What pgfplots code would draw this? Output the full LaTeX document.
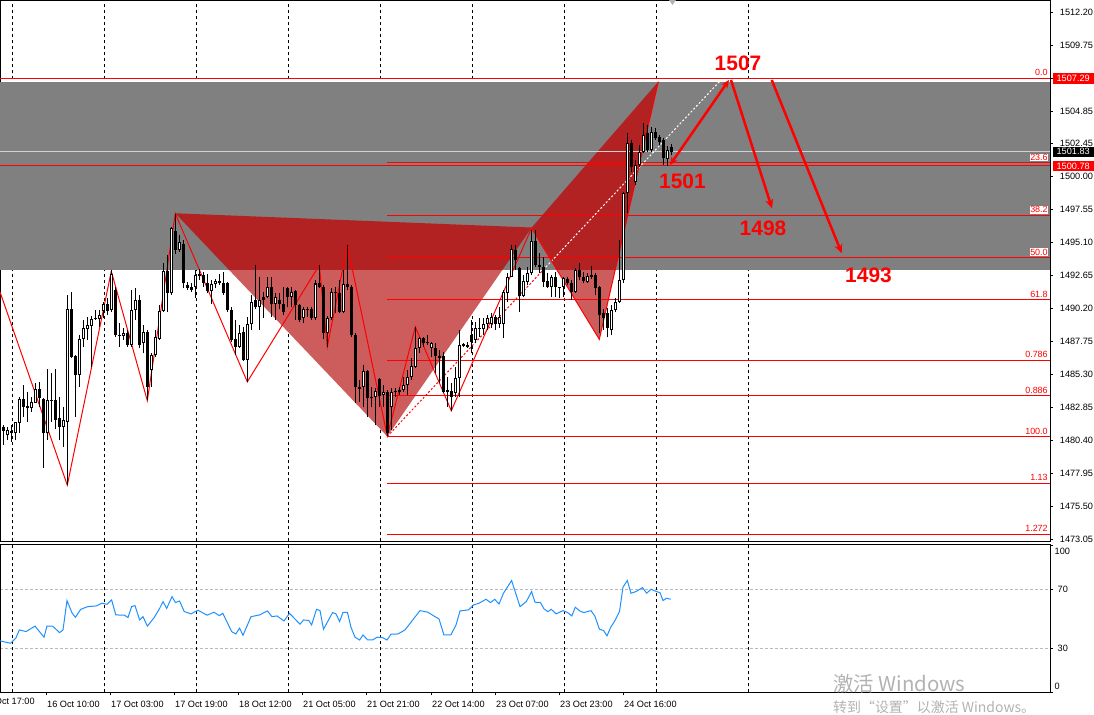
\documentclass[border=0pt]{standalone}
\usepackage{fontspec}
\setmainfont{Liberation Sans}
\newfontfamily\cjk{Noto Sans CJK SC}
\usepackage{pgfplots}
\usepackage{pgfplotstable}
\pgfplotsset{compat=1.18}
\usetikzlibrary{arrows.meta}

\definecolor{band}{RGB}{128,128,128}
\definecolor{tridark}{RGB}{178,34,34}
\definecolor{trilight}{RGB}{205,92,92}
\definecolor{mtred}{RGB}{255,0,0}
\definecolor{rsiblue}{RGB}{30,144,255}
\definecolor{bidgray}{RGB}{210,210,210}

\newcommand\ax{\fontsize{9.2}{10}\selectfont}

% x = pixel column of the bar, prices o h l c
\pgfplotstableread{
x o h l c
3.3 1481.39 1481.51 1480.02 1481.09
7.3 1480.77 1481.39 1480.40 1481.14
11.3 1481.07 1481.51 1480.27 1480.89
15.3 1480.89 1481.76 1480.40 1481.76
19.3 1481.69 1483.62 1480.89 1483.42
23.3 1483.42 1484.49 1482.13 1482.88
27.3 1482.95 1483.99 1481.76 1482.75
31.3 1482.75 1483.62 1482.50 1483.20
35.3 1483.17 1484.61 1483.12 1484.16
39.3 1484.16 1484.73 1482.88 1483.54
43.3 1483.49 1483.55 1478.34 1480.89
47.3 1480.89 1485.65 1480.40 1483.37
51.3 1483.37 1485.40 1481.76 1483.32
55.3 1483.37 1485.72 1481.19 1481.88
59.3 1482.01 1483.62 1480.40 1481.39
63.3 1481.39 1482.88 1479.90 1481.88
67.3 1481.76 1491.17 1477.05 1490.11
71.3 1490.11 1491.42 1486.47 1486.59
75.3 1486.64 1486.70 1482.13 1485.23
79.3 1485.23 1488.20 1484.36 1487.95
83.3 1487.95 1489.32 1487.33 1488.70
87.3 1488.62 1489.56 1487.83 1488.94
91.3 1488.90 1489.61 1485.85 1489.37
95.3 1489.44 1490.06 1489.32 1489.39
99.3 1489.39 1490.06 1488.82 1489.69
103.3 1489.98 1490.68 1489.44 1490.48
107.3 1490.48 1490.93 1489.69 1490.01
111.3 1490.06 1493.03 1489.93 1492.78
115.3 1491.59 1491.79 1488.08 1488.20
119.3 1488.20 1489.07 1487.33 1488.15
123.3 1488.15 1488.70 1487.83 1488.33
127.3 1488.37 1488.57 1487.33 1487.46
131.3 1487.46 1491.54 1487.33 1490.06
135.3 1490.06 1491.67 1489.32 1490.85
139.3 1490.85 1491.17 1487.21 1487.46
143.3 1487.58 1488.94 1486.84 1488.40
147.3 1488.40 1488.57 1483.37 1484.36
151.3 1485.60 1486.84 1484.36 1486.76
155.3 1486.76 1488.57 1486.59 1488.03
159.3 1487.95 1490.43 1487.83 1490.01
163.3 1490.01 1493.53 1489.93 1492.98
167.3 1492.98 1494.15 1489.93 1491.35
171.3 1491.35 1496.25 1491.20 1496.20
175.3 1495.93 1497.24 1494.20 1494.52
179.3 1494.52 1495.63 1494.37 1495.13
183.3 1494.96 1495.26 1491.67 1492.04
187.3 1491.92 1492.16 1491.54 1491.74
191.3 1491.79 1492.04 1491.42 1491.54
195.3 1491.79 1493.03 1490.93 1492.66
199.3 1492.58 1493.15 1492.29 1492.71
203.3 1492.66 1492.91 1491.79 1492.04
207.3 1492.09 1492.78 1491.30 1491.50
211.3 1491.50 1492.29 1490.55 1491.99
215.3 1491.97 1492.41 1491.67 1492.21
219.3 1492.24 1492.78 1491.92 1492.04
223.3 1492.09 1492.91 1491.17 1491.35
227.3 1492.09 1492.16 1489.93 1490.06
231.3 1490.06 1490.31 1487.71 1487.83
235.3 1487.90 1489.32 1486.71 1487.33
239.3 1487.33 1488.94 1487.21 1488.33
243.3 1488.45 1488.77 1486.30 1486.34
247.3 1486.34 1489.56 1484.73 1489.00
251.3 1489.00 1491.17 1488.57 1490.68
255.3 1490.80 1493.40 1490.18 1490.31
259.3 1490.31 1492.54 1488.57 1490.85
263.3 1490.85 1491.42 1489.44 1491.00
267.3 1491.05 1492.54 1490.93 1491.79
271.3 1491.79 1492.54 1489.56 1490.55
275.3 1490.55 1491.30 1489.32 1491.00
279.3 1490.85 1491.30 1490.18 1490.50
283.3 1490.50 1491.79 1489.69 1489.93
287.3 1491.67 1491.79 1490.31 1491.05
291.3 1491.05 1491.79 1490.31 1491.42
295.3 1491.47 1491.54 1489.32 1490.41
299.3 1490.41 1490.55 1489.19 1489.32
303.3 1489.44 1490.31 1489.07 1490.11
307.3 1490.13 1490.31 1489.56 1490.08
311.3 1490.18 1490.31 1489.32 1489.44
315.3 1489.44 1492.29 1489.32 1492.04
319.3 1492.04 1493.40 1491.67 1491.79
323.3 1491.79 1491.92 1487.95 1488.33
327.3 1488.33 1489.61 1487.33 1489.51
331.3 1489.51 1491.67 1489.32 1491.42
335.3 1491.42 1491.79 1489.81 1491.30
339.3 1491.35 1492.29 1489.81 1489.93
343.3 1489.93 1493.03 1489.81 1491.99
347.3 1491.99 1494.89 1491.54 1491.79
351.3 1491.79 1491.92 1488.08 1488.20
355.3 1488.20 1488.33 1483.12 1484.36
359.3 1484.36 1484.90 1483.20 1484.20
363.3 1484.36 1485.98 1482.88 1485.55
367.3 1485.55 1485.60 1482.14 1483.50
371.3 1483.62 1484.36 1482.88 1483.50
375.3 1483.57 1484.24 1481.52 1484.07
379.3 1484.91 1484.99 1482.88 1483.67
383.3 1483.75 1484.49 1482.88 1483.99
387.3 1483.99 1484.12 1480.70 1480.90
391.3 1482.83 1484.24 1481.15 1483.94
395.3 1483.94 1484.24 1483.62 1484.04
399.3 1483.99 1484.36 1483.75 1484.12
403.3 1484.12 1485.11 1483.99 1484.49
407.3 1484.49 1485.60 1483.75 1485.11
411.3 1485.11 1486.47 1484.86 1485.90
415.3 1485.85 1488.82 1485.73 1487.21
419.3 1487.21 1488.08 1486.84 1487.96
423.3 1487.96 1488.08 1487.34 1487.58
427.3 1487.63 1488.20 1487.46 1487.58
431.3 1487.21 1487.71 1486.59 1487.63
435.3 1487.26 1487.58 1485.36 1486.64
439.3 1486.64 1487.09 1484.61 1486.47
443.3 1486.64 1486.97 1483.87 1483.99
447.3 1484.12 1485.11 1482.88 1483.99
451.3 1484.07 1484.61 1482.58 1483.62
455.3 1483.87 1485.85 1483.62 1484.99
459.3 1484.99 1488.58 1483.62 1487.46
463.3 1487.51 1487.58 1487.34 1487.39
467.3 1487.46 1487.71 1487.21 1487.34
471.3 1488.20 1489.32 1486.84 1487.71
475.3 1487.83 1489.20 1487.63 1488.70
479.3 1488.63 1489.44 1488.08 1488.70
483.3 1488.63 1489.44 1488.20 1489.02
487.3 1489.02 1489.69 1488.58 1489.44
491.3 1489.02 1489.81 1488.70 1489.52
495.3 1489.57 1489.69 1488.58 1489.02
499.3 1489.02 1490.31 1488.70 1489.57
503.3 1489.02 1491.55 1487.96 1491.42
507.3 1491.35 1492.79 1490.68 1492.54
511.3 1492.54 1494.89 1492.54 1494.57
515.3 1494.52 1494.89 1493.03 1493.78
519.3 1493.16 1493.28 1489.94 1491.10
523.3 1491.10 1492.66 1491.05 1492.22
527.3 1492.17 1493.28 1491.92 1492.79
531.3 1492.79 1496.01 1492.66 1495.21
535.3 1495.21 1496.01 1493.28 1493.41
539.3 1493.41 1494.32 1492.79 1493.28
543.3 1493.28 1494.03 1491.80 1492.17
547.3 1492.22 1492.79 1491.67 1491.80
551.3 1491.75 1492.66 1491.05 1492.49
555.3 1492.54 1492.91 1491.05 1491.80
559.3 1491.75 1491.80 1490.93 1491.67
563.3 1491.80 1492.54 1491.05 1492.42
567.3 1492.34 1492.54 1491.92 1492.04
571.3 1492.09 1492.29 1490.81 1491.42
575.3 1491.42 1493.16 1491.30 1493.03
579.3 1493.08 1493.53 1492.29 1492.49
583.3 1492.54 1492.91 1492.04 1492.24
587.3 1492.16 1492.81 1492.06 1492.61
591.3 1492.66 1493.35 1492.41 1492.53
595.3 1492.66 1492.81 1491.17 1491.72
599.3 1491.79 1491.84 1488.35 1489.69
603.3 1489.84 1490.13 1488.57 1489.46
607.3 1489.84 1490.21 1488.05 1488.72
611.3 1488.57 1490.43 1488.20 1490.06
615.3 1490.06 1490.95 1489.91 1490.68
619.3 1490.68 1495.26 1490.58 1492.29
623.3 1492.29 1498.85 1492.06 1498.75
627.3 1498.75 1503.21 1497.27 1502.47
631.3 1502.47 1502.69 1500.31 1500.68
635.3 1499.59 1501.20 1499.35 1500.83
639.3 1500.83 1502.32 1500.70 1501.82
643.3 1501.82 1503.95 1501.72 1503.06
647.3 1503.21 1503.80 1501.80 1501.95
651.3 1501.95 1503.68 1501.82 1503.31
655.3 1503.31 1503.58 1502.69 1502.82
659.3 1502.91 1503.06 1502.32 1502.56
663.3 1502.69 1502.84 1500.83 1501.35
667.3 1501.28 1502.24 1500.76 1501.95
671.3 1502.19 1502.39 1501.57 1501.83
}\candles

\pgfplotstableread{
x rsi
0 35.0
10.5 33.4
15.8 36.8
19.3 42.4
26 41.3
35 45.0
44 37.5
47 45.0
52.6 45.0
59.6 40.6
63 42.4
67 62.3
72 54.0
75.4 51.0
80.7 56.4
87.7 58.2
96.5 58.7
101.8 60.5
107 59.8
111.6 62.8
115.8 52.6
124.6 52.4
128 50.8
131.6 58.2
135 58.9
139.6 49.2
143 51.4
147.4 45.0
154.4 51.0
159.6 57.0
163 61.6
166.7 57.0
172 65.0
175.4 61.0
179.6 62.0
184.2 54.9
191 53.3
198 55.8
207 52.4
214 54.4
219.3 52.1
222.8 53.7
231.6 41.3
235.8 39.7
239.6 43.6
243 38.8
251 51.4
259.6 52.6
267.4 55.3
272 51.4
277 51.9
284 48.5
289.5 53.7
300 46.3
303.5 49.2
308.8 48.8
311.6 45.8
316.5 56.4
320 55.5
323.5 42.9
332.6 54.2
336 53.3
339.6 48.1
343 54.4
347.4 54.4
351 44.2
355 37.5
359.6 35.6
363 39.0
367.7 35.6
372.6 35.6
377 37.5
382.5 37.2
387 35.6
391 39.5
398 39.7
405 42.4
414 50.3
420 55.5
428 54.4
435 51.4
439 49.9
443.9 39.0
450.9 39.0
456 45.8
460 55.3
468.4 56.0
473.7 59.4
479 60.5
486 63.2
490.5 61.0
494.7 63.2
499 60.0
503.5 67.3
511.6 75.9
520 58.2
526.3 61.6
531.6 68.4
535 61.2
540.4 61.0
544 56.7
547.8 54.8
551.3 56.4
556 53.3
563 55.5
567.6 54.2
571.8 51.9
575.3 57.8
580.6 54.9
584 54.2
591 55.5
594.8 51.9
599.4 42.9
603.6 42.0
607 38.4
610.7 44.2
615 48.8
619.5 54.9
623 71.4
627.3 75.9
631 67.3
636 68.4
642.5 71.1
646.7 67.3
651 70.0
656.6 68.4
660 67.7
663 62.3
666.5 63.9
670.7 63.2
}\rsi

\pgfplotsset{
  mtframe/.style={
    scale only axis, width=1050bp, xmin=0, xmax=1050,
    axis line style={black, line width=1bp},
    tick align=outside, major tick length=3bp,
    ytick pos=right, yticklabel pos=right,
    ytick style={black, line width=0.8bp},
    clip mode=individual,
  },
}

\begin{document}
\begin{tikzpicture}[x=1bp,y=1bp]
\path[use as bounding box] (0,0) rectangle (1094,715);

\begin{axis}[mtframe,
  at={(0bp,714.5bp)}, anchor=north west, height=541bp,
  ymin=1472.86, ymax=1513.08,
  xtick={12,104,196,288,380,472,564,656,748}, xticklabels={},
  xtick style={draw=none},
  xmajorgrids,
  major x grid style={black, line width=1bp, dash pattern=on 3bp off 3bp},
  ytick={1512.20,1509.75,1507.30,1504.85,1502.45,1500.00,1497.55,1495.10,1492.65,1490.20,1487.75,1485.30,1482.85,1480.40,1477.95,1475.50,1473.05},
  yticklabels={1512.20,1509.75,{},1504.85,1502.45,1500.00,1497.55,1495.10,1492.65,1490.20,1487.75,1485.30,1482.85,1480.40,1477.95,1475.50,1473.05},
  yticklabel style={font=\ax, anchor=west, inner sep=0pt, xshift=6.7bp},
]
% rectangle zone
\addplot[fill=band, draw=none] coordinates {(0,1493.04) (1050,1493.04) (1050,1507.04) (0,1507.04)} -- cycle;
% harmonic pattern triangles
\addplot[fill=tridark, draw=none] coordinates {(175.3,1497.26) (229.2,1493.04) (502.3,1493.04) (531.7,1496.20)} -- cycle;
\addplot[fill=trilight, draw=none] coordinates {(229.2,1493.04) (387.3,1480.67) (502.3,1493.04)} -- cycle;
\addplot[fill=tridark, draw=none] coordinates {(531.7,1496.20) (557.4,1493.04) (615.2,1493.04) (658.3,1507.04)} -- cycle;
\addplot[fill=trilight, draw=none] coordinates {(557.4,1493.04) (599.3,1487.89) (615.2,1493.04)} -- cycle;

% horizontal lines
\addplot[mtred, line width=1bp] coordinates {(0,1507.29) (1050,1507.29)};
\addplot[mtred, line width=1bp] coordinates {(0,1500.78) (1050,1500.78)};
\addplot[bidgray, line width=1bp] coordinates {(0,1501.83) (1050,1501.83)};
% fibonacci levels
\addplot[mtred, line width=1bp] coordinates {(387.3,1501.00) (1050,1501.00)};
\addplot[mtred, line width=1bp] coordinates {(387.3,1497.11) (1050,1497.11)};
\addplot[mtred, line width=1bp] coordinates {(387.3,1493.97) (1050,1493.97)};
\addplot[mtred, line width=1bp] coordinates {(387.3,1490.83) (1050,1490.83)};
\addplot[mtred, line width=1bp] coordinates {(387.3,1486.35) (1050,1486.35)};
\addplot[mtred, line width=1bp] coordinates {(387.3,1483.69) (1050,1483.69)};
\addplot[mtred, line width=1bp] coordinates {(387.3,1480.65) (1050,1480.65)};
\addplot[mtred, line width=1bp] coordinates {(387.3,1477.19) (1050,1477.19)};
\addplot[mtred, line width=1bp] coordinates {(387.3,1473.40) (1050,1473.40)};

% fib trend line
\addplot[mtred, line width=1bp, dash pattern=on 2bp off 2bp] coordinates {(387.3,1480.67) (543.1,1493.04)};
\addplot[white, line width=1bp, dash pattern=on 2bp off 2bp] coordinates {(543.1,1493.04) (721,1507.17)};

% zigzag
\addplot[mtred, line width=1bp] coordinates {
(0,1491.41) (67.3,1477.05) (111.3,1492.95) (147.3,1483.33) (175.3,1497.24)
(247.3,1484.73) (319.3,1493.40) (327.3,1487.33) (347.3,1494.89) (387.3,1480.70)
(415.3,1488.82) (451.3,1482.58) (531.5,1496.15) (599.3,1487.89) (658.3,1507.04)};

% candles: wick, body, hollow inside of rising bars
\addplot[black, no markers, line width=1bp, quiver={u=0, v={\thisrow{h}-\thisrow{l}}}]
  table[x=x, y=l] {\candles};
\addplot[black, no markers, line width=3.3bp, quiver={u=0, v={max(abs(\thisrow{c}-\thisrow{o}),0.075)}}]
  table[x=x, y expr={min(\thisrow{o},\thisrow{c})}] {\candles};
\addplot[white, no markers, line width=1.3bp, quiver={u=0, v={max(\thisrow{c}-\thisrow{o}-0.15,0)}}]
  table[x=x, y expr={\thisrow{o}+0.075}] {\candles};

% forecast arrows
\addplot[mtred, line width=2.5bp, {Stealth[length=8bp,width=7bp]}-{Stealth[length=8bp,width=7bp]}] coordinates {(670,1500.85) (729,1507.17)};
\addplot[mtred, line width=2.5bp, -{Stealth[length=9bp,width=8bp]}] coordinates {(731,1507.17) (772,1497.63)};
\addplot[mtred, line width=2.5bp, -{Stealth[length=9bp,width=8bp]}] coordinates {(771.7,1507.17) (841.7,1494.29)};

\begin{scope}[every node/.style={text=mtred, font=\bfseries\fontsize{21}{21}\selectfont, inner sep=0pt}]
\node at (axis cs:738,1508.39) {1507};
\node at (axis cs:682.5,1499.66) {1501};
\node at (axis cs:763,1496.17) {1498};
\node at (axis cs:868.5,1492.67) {1493};
\end{scope}

\begin{scope}[every node/.style={anchor=south east, fill=white, inner sep=0.6bp, text=mtred, font=\fontsize{9}{9}\selectfont, yshift=1.5bp}]
\node at (axis cs:1048.5,1507.29) {0.0};
\node at (axis cs:1048.5,1501.00) {23.6};
\node at (axis cs:1048.5,1497.11) {38.2};
\node at (axis cs:1048.5,1493.97) {50.0};
\node at (axis cs:1048.5,1490.83) {61.8};
\node at (axis cs:1048.5,1486.35) {0.786};
\node at (axis cs:1048.5,1483.69) {0.886};
\node at (axis cs:1048.5,1480.65) {100.0};
\node at (axis cs:1048.5,1477.19) {1.13};
\node at (axis cs:1048.5,1473.40) {1.272};
\end{scope}

\coordinate (pa) at (axis cs:1050,1507.29);
\coordinate (pb) at (axis cs:1050,1501.83);
\coordinate (pc) at (axis cs:1050,1500.78);
\end{axis}

\begin{scope}[every node/.style={anchor=west, inner sep=0pt, minimum width=40.6bp, minimum height=10.5bp, text=white, font=\ax}]
\node[fill=mtred] at ([xshift=2.7bp]pa) {1507.29};
\node[fill=black] at ([xshift=2.7bp]pb) {1501.83};
\node[fill=mtred] at ([xshift=2.7bp]pc) {1500.78};
\end{scope}

% RSI window
\begin{axis}[mtframe,
  at={(0bp,170bp)}, anchor=north west, height=147.5bp,
  ymin=0, ymax=100,
  xtick={46,110,174,238,302,366,431,495,559,623},
  xticklabels={16 Oct 10:00,17 Oct 03:00,17 Oct 19:00,18 Oct 12:00,21 Oct 05:00,21 Oct 21:00,22 Oct 14:00,23 Oct 07:00,23 Oct 23:00,24 Oct 16:00},
  xtick pos=left,
  xtick style={black, line width=0.8bp},
  xticklabel style={font=\ax, anchor=north west, inner sep=0pt, xshift=1bp, yshift=-5bp},
  extra x ticks={12,104,196,288,380,472,564,656,748},
  extra x tick labels={},
  extra x tick style={grid=major, major tick length=0pt},
  major x grid style={black, line width=1bp, dash pattern=on 3bp off 3bp},
  ytick={30,70}, yticklabels={30,70},
  ymajorgrids,
  major y grid style={gray!55, line width=1bp, dash pattern=on 3bp off 2bp},
  extra y ticks={0,100}, extra y tick labels={},
  extra y tick style={grid=none},
  yticklabel style={font=\ax, anchor=west, inner sep=0pt, xshift=4.5bp},
]
\addplot[rsiblue, line width=1bp] table[x=x, y=rsi] {\rsi};
\node[anchor=north west, inner sep=0pt, font=\ax, xshift=4.5bp, yshift=-3bp] at (rel axis cs:1,1) {100};
\node[anchor=south west, inner sep=0pt, font=\ax, xshift=4.5bp, yshift=3bp] at (rel axis cs:1,0) {0};
\node[anchor=north west, inner sep=0pt, font=\ax, yshift=-5bp] at (axis cs:-18,0) {15 Oct 17:00};
\end{axis}

% chart shift marker
\fill[gray!60] (669,715) -- (676,715) -- (672.5,710) -- cycle;

% watermark
\node[anchor=west, inner sep=0pt, text=gray!60, font=\cjk\fontsize{20.5}{20.5}\selectfont] at (833,31) {激活 Windows};
\node[anchor=west, inner sep=0pt, text=gray!60, font=\cjk\fontsize{14}{14}\selectfont] at (833,8) {转到“设置”以激活 Windows。};
\end{tikzpicture}
\end{document}
